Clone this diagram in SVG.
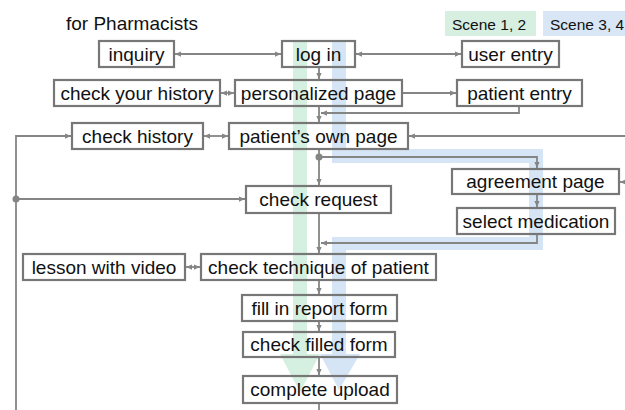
<svg xmlns="http://www.w3.org/2000/svg" width="625" height="410" viewBox="0 0 625 410">
<style>
text{font-family:"Liberation Sans",Arial,sans-serif;fill:#111}
.t{font-size:19px;text-anchor:middle}
.lg{font-size:15.5px}
.box{fill:none;stroke:#777;stroke-width:2.2}
.c{fill:none;stroke:#858585;stroke-width:1.8}
.g{fill:#57bf83;fill-opacity:.25}
.b{fill:#5b97d7;fill-opacity:.25}
</style>
<defs>
<marker id="ah" viewBox="0 0 8 8" refX="8" refY="4" markerWidth="6" markerHeight="6" markerUnits="userSpaceOnUse" orient="auto-start-reverse">
<path d="M0,0.5 L8,4 L0,7.5 Z" fill="#858585"/>
</marker>
</defs>
<rect width="625" height="410" fill="#fff"/>

<g id="bands">
<path class="g" d="M293,41 H307 V354 H320 L300,392 L280,354 H293 Z"/>
<path class="b" d="M332,41 H346 V149 H543 V250 H346 V354 H360 L339,390 L320,354 H332 V237 H529 V163 H332 Z"/>
</g>

<g id="legend">
<rect x="445" y="11" width="91" height="25" fill="#d6efe1"/>
<text class="lg" x="452" y="30">Scene 1, 2</text>
<rect x="543" y="11" width="82" height="25" fill="#d9e6f6"/>
<text class="lg" x="550" y="30">Scene 3, 4</text>
</g>

<text id="title" x="66" y="30" style="font-size:19px">for Pharmacists</text>

<g id="connectors">
<line class="c" x1="175" y1="54" x2="281" y2="54" marker-start="url(#ah)" marker-end="url(#ah)"/>
<line class="c" x1="356" y1="54" x2="461" y2="54" marker-start="url(#ah)" marker-end="url(#ah)"/>
<line class="c" x1="319" y1="67" x2="319" y2="79" marker-end="url(#ah)"/>
<line class="c" x1="221" y1="93" x2="234" y2="93" marker-start="url(#ah)" marker-end="url(#ah)"/>
<line class="c" x1="403" y1="93" x2="456" y2="93" marker-end="url(#ah)"/>
<line class="c" x1="319" y1="106" x2="319" y2="122" marker-end="url(#ah)"/>
<polyline class="c" points="519,106 519,113 321,113" marker-end="url(#ah)"/>
<line class="c" x1="204" y1="136" x2="228" y2="136" marker-start="url(#ah)" marker-end="url(#ah)"/>
<line class="c" x1="625" y1="136" x2="409" y2="136" marker-end="url(#ah)"/>
<polyline class="c" points="16,410 16,136 71,136" marker-end="url(#ah)"/>
<circle cx="16" cy="199" r="3.5" fill="#858585"/>
<line class="c" x1="16" y1="199" x2="245" y2="199" marker-end="url(#ah)"/>
<line class="c" x1="319" y1="149" x2="319" y2="185" marker-end="url(#ah)"/>
<circle cx="319" cy="157" r="3.5" fill="#858585"/>
<polyline class="c" points="319,157 537,157 537,168" marker-end="url(#ah)"/>
<line class="c" x1="625" y1="182" x2="620" y2="182" marker-end="url(#ah)"/>
<line class="c" x1="537" y1="194" x2="537" y2="207" marker-end="url(#ah)"/>
<polyline class="c" points="537,234 537,243 321,243" marker-end="url(#ah)"/>
<line class="c" x1="319" y1="213" x2="319" y2="253" marker-end="url(#ah)"/>
<line class="c" x1="186" y1="267" x2="200" y2="267" marker-start="url(#ah)" marker-end="url(#ah)"/>
<line class="c" x1="319" y1="280" x2="319" y2="294" marker-end="url(#ah)"/>
<line class="c" x1="319" y1="321" x2="319" y2="331" marker-end="url(#ah)"/>
<line class="c" x1="319" y1="357" x2="319" y2="375" marker-end="url(#ah)"/>
<line class="c" x1="319" y1="403" x2="319" y2="410"/>
</g>

<g id="inquiry"><rect class="box" x="99" y="41" width="75" height="26"/><text class="t" x="136.5" y="60.5">inquiry</text></g>
<g id="login"><rect class="box" x="282" y="41" width="73" height="26"/><text class="t" x="318.5" y="60.5">log in</text></g>
<g id="user-entry"><rect class="box" x="462" y="41" width="97" height="26"/><text class="t" x="510.5" y="60.5">user entry</text></g>
<g id="check-your-history"><rect class="box" x="54" y="80" width="166" height="26"/><text class="t" x="137" y="99.5">check your history</text></g>
<g id="personalized-page"><rect class="box" x="235" y="80" width="167" height="26"/><text class="t" x="318.5" y="99.5">personalized page</text></g>
<g id="patient-entry"><rect class="box" x="457" y="80" width="125" height="26"/><text class="t" x="519.5" y="99.5">patient entry</text></g>
<g id="check-history"><rect class="box" x="72" y="123" width="131" height="26"/><text class="t" x="137.5" y="142.5">check history</text></g>
<g id="patients-own-page"><rect class="box" x="229" y="123" width="179" height="26"/><text class="t" x="318.5" y="142.5">patient’s own page</text></g>
<g id="check-request"><rect class="box" x="246" y="186" width="145" height="27"/><text class="t" x="318.5" y="206">check request</text></g>
<g id="agreement-page"><rect class="box" x="452" y="169" width="167" height="25"/><text class="t" x="535.5" y="188">agreement page</text></g>
<g id="select-medication"><rect class="box" x="457" y="208" width="158" height="26"/><text class="t" x="536" y="227.5">select medication</text></g>
<g id="lesson-with-video"><rect class="box" x="23" y="254" width="162" height="26"/><text class="t" x="104" y="273.5">lesson with video</text></g>
<g id="check-technique"><rect class="box" x="201" y="254" width="235" height="26"/><text class="t" x="318.5" y="273.5">check technique of patient</text></g>
<g id="fill-in-report-form"><rect class="box" x="242" y="295" width="155" height="26"/><text class="t" x="319.5" y="314.5">fill in report form</text></g>
<g id="check-filled-form"><rect class="box" x="243" y="332" width="152" height="25"/><text class="t" x="319" y="351">check filled form</text></g>
<g id="complete-upload"><rect class="box" x="243" y="376" width="154" height="27"/><text class="t" x="320" y="396">complete upload</text></g>
</svg>
